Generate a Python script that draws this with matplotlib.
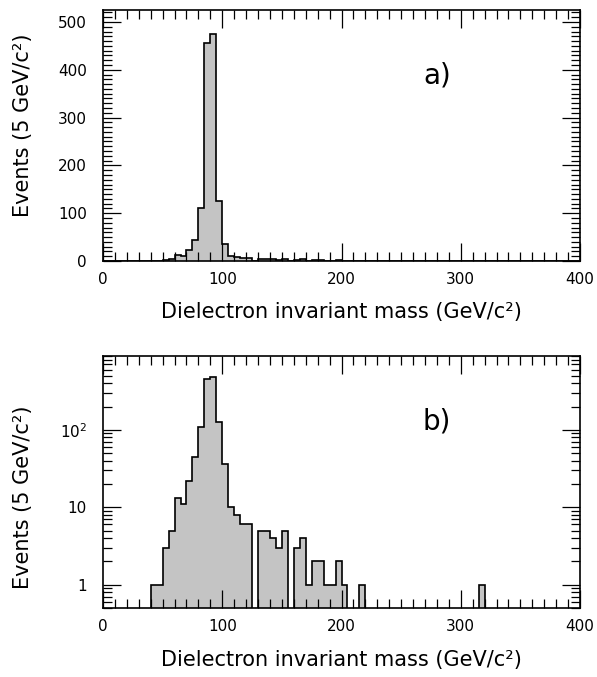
import numpy as np
import matplotlib
matplotlib.use("Agg")
import matplotlib.pyplot as plt
from matplotlib.ticker import MultipleLocator, LogLocator, NullFormatter

# Dielektron-Massenspektrum, 5 GeV Bins von 0 bis 400
bin_width = 5.0
mass_lo = [40, 45, 50, 55, 60, 65, 70, 75, 80, 85, 90, 95, 100, 105, 110, 115, 120,
           130, 135, 140, 145, 150, 160, 165, 170, 175, 180, 185, 190, 195, 200,
           215, 315]
counts = [1, 1, 3, 5, 13, 11, 22, 44, 110, 455, 475, 126, 36, 10, 8, 6, 6,
          5, 5, 4, 3, 5, 3, 4, 1, 2, 2, 1, 1, 2, 1,
          1, 1]

edges = np.arange(0, 400 + bin_width, bin_width)
hist = np.zeros(len(edges) - 1)
for m, c in zip(mass_lo, counts):
    hist[int(m // bin_width)] = c

fill_col = "#c4c4c4"
W, H = 597, 677
fig = plt.figure(figsize=(W / 100, H / 100), dpi=100)

ax1 = fig.add_axes([103 / W, 1 - 261 / H, 477 / W, 251 / H])
ax2 = fig.add_axes([103 / W, 1 - 608 / H, 477 / W, 252 / H])

# a) linear
ax1.stairs(hist, edges, fill=True, color=fill_col, baseline=0)
ax1.stairs(hist, edges, color="black", lw=1.2, baseline=0)
ax1.set_xlim(0, 400)
ax1.set_ylim(0, 525)
ax1.yaxis.set_major_locator(MultipleLocator(100))
ax1.yaxis.set_minor_locator(MultipleLocator(10))

# b) log
hist_log = np.where(hist > 0, hist, 1e-3)
ax2.stairs(hist_log, edges, fill=True, color=fill_col, baseline=1e-3)
ax2.stairs(hist_log, edges, color="black", lw=1.2, baseline=1e-3)
ax2.set_xlim(0, 400)
ax2.set_yscale("log")
ax2.set_ylim(0.5, 900)
ax2.set_yticks([1, 10, 100])
ax2.set_yticklabels(["1", "10", "10$^2$"])
ax2.yaxis.set_minor_locator(LogLocator(base=10, subs=np.arange(2, 10)))
ax2.yaxis.set_minor_formatter(NullFormatter())

for ax, tag, ylab_y in [(ax1, "a)", 0.54), (ax2, "b)", 0.44)]:
    ax.xaxis.set_major_locator(MultipleLocator(100))
    ax.xaxis.set_minor_locator(MultipleLocator(10))
    ax.tick_params(which="both", direction="in", top=True, right=True,
                   width=0.9, labelsize=11)
    ax.tick_params(axis="x", which="major", pad=8)
    ax.tick_params(axis="y", which="major", pad=11.5)
    ax.tick_params(which="major", length=13)
    ax.tick_params(which="minor", length=6.5)
    for s in ax.spines.values():
        s.set_linewidth(1.2)
    ax.set_xlabel("Dielectron invariant mass (GeV/c²)", fontsize=15)
    ax.set_ylabel("Events (5 GeV/c²)", fontsize=15)
    ax.xaxis.set_label_coords(0.5, -0.165)
    ax.yaxis.set_label_coords(-0.147, ylab_y)
    ax.text(0.70, 0.74, tag, transform=ax.transAxes, fontsize=20,
            ha="center", va="center")

fig.savefig("out.png", dpi=100)
